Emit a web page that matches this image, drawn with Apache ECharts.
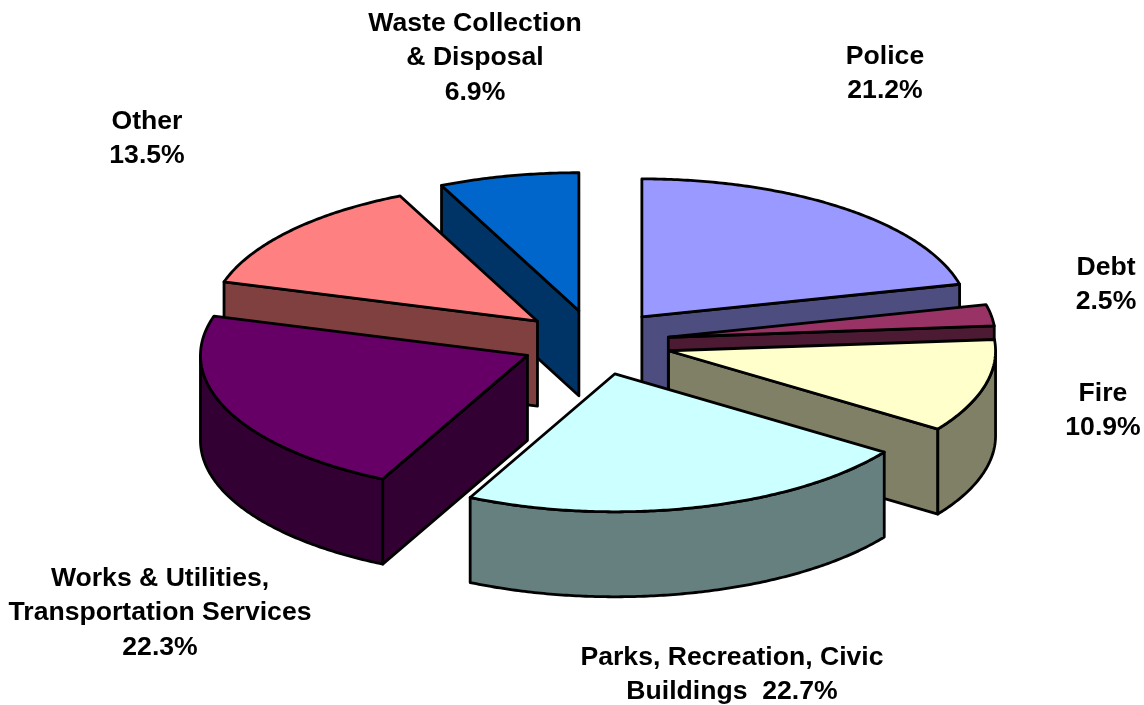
<!DOCTYPE html>
<html>
<head>
<meta charset="utf-8">
<style>html,body{margin:0;padding:0;background:#fff}#c{width:1144px;height:705px}</style>
<script src="https://cdn.jsdelivr.net/npm/echarts@6/dist/echarts.min.js"></script>
</head>
<body>
<div id="c"></div>
<script>
// Data, clockwise from 12 o'clock
const names = ['Police\n', 'Debt\n', 'Fire\n', 'Parks, Recreation, Civic\nBuildings  ', 'Works & Utilities,\nTransportation Services\n', 'Other\n', 'Waste Collection\n& Disposal\n'];
const values = [21.2, 2.5, 10.9, 22.7, 22.3, 13.5, 6.9];
const topColors = ['#9999FF', '#993366', '#FFFFCC', '#CCFFFF', '#660066', '#FF8080', '#0066CC'];
const wallColors = ['#4D4D80', '#4D1A33', '#808066', '#668080', '#330033', '#804040', '#003366'];

// Layout
const paintOrder = [0, 1, 2, 6, 5, 4, 3];
const labelCenters = [[885, 39], [1106, 250], [1103, 376], [732, 640], [160, 561], [147, 104], [475, 6]];
const nudgeX = [0, -1.2, 0.6, 0.5, 0.5, -1.5, -0.6];
const CX = 595.6, CY = 342.4, RX = 327, RY = 138, DEPTH = 85, EXPLODE_X = 0.229, EXPLODE_Y = 0.235;
const LINE = 34.6, FONT = 'bold 26.6px "Liberation Sans", Arial, sans-serif';

const total = values.reduce((a, b) => a + b, 0);
let run = 0;
const seriesData = values.map((v, i) => {
  const start = run / total * 2 * Math.PI;
  run += v;
  return [i, start, run / total * 2 * Math.PI];
});

function arcPoints(ax, ay, a0, a1) {
  const n = Math.max(2, Math.ceil((a1 - a0) / 0.01));
  const pts = [];
  for (let k = 0; k <= n; k++) {
    const a = a0 + (a1 - a0) * k / n;
    pts.push([ax + RX * Math.sin(a), ay - RY * Math.cos(a)]);
  }
  return pts;
}

function face(points, fill, z2) {
  return {
    type: 'polygon', z2,
    shape: { points },
    style: { fill, stroke: '#000', lineWidth: 2.8, lineJoin: 'round' },
    silent: true
  };
}

function renderItem(params, api) {
  const i = api.value(0), a0 = api.value(1), a1 = api.value(2);
  const rank = paintOrder.indexOf(i);
  const mid = (a0 + a1) / 2;
  const ax = CX + EXPLODE_X * RX * Math.sin(mid) + nudgeX[i];
  const ay = CY - EXPLODE_Y * RY * Math.cos(mid);
  const children = [];
  const edgeWall = (a, z) => {
    const p = [ax + RX * Math.sin(a), ay - RY * Math.cos(a)];
    children.push(face([[ax, ay], p, [p[0], p[1] + DEPTH], [ax, ay + DEPTH]], wallColors[i], z));
  };
  if (Math.sin(a0) < 0) edgeWall(a0, rank * 10 + 1);
  if (Math.sin(a1) > 0.001) edgeWall(a1, rank * 10 + 1);
  const lo = Math.max(a0, Math.PI / 2), hi = Math.min(a1, 3 * Math.PI / 2);
  if (hi > lo) {
    const rim = arcPoints(ax, ay, lo, hi);
    const low = rim.map(p => [p[0], p[1] + DEPTH]).reverse();
    children.push(face(rim.concat(low), wallColors[i], rank * 10 + 2));
  }
  children.push(face([[ax, ay]].concat(arcPoints(ax, ay, a0, a1)), topColors[i], rank * 10 + 3));
  children.push({
    type: 'text', z2: 200, silent: true,
    style: {
      x: labelCenters[i][0], y: labelCenters[i][1],
      text: names[i] + values[i].toFixed(1) + '%',
      font: FONT, fill: '#000', align: 'center', verticalAlign: 'top', lineHeight: LINE
    }
  });
  return { type: 'group', children };
}

const chart = echarts.init(document.getElementById('c'), null, { renderer: 'canvas' });
chart.setOption({
  animation: false,
  backgroundColor: '#fff',
  series: [{
    type: 'custom',
    coordinateSystem: 'none',
    renderItem,
    data: seriesData,
    clip: false
  }]
});
</script>
</body>
</html>
